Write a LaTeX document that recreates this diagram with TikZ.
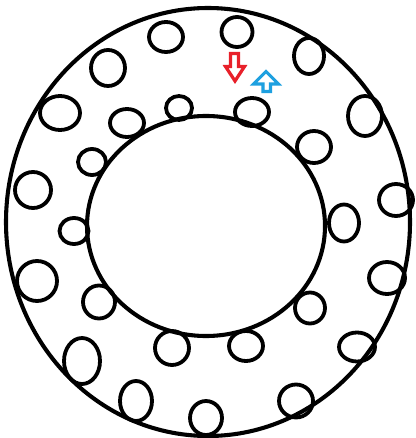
\documentclass[tikz,border=0pt]{standalone}
\usepackage{tikz}
\usepackage{xcolor}
\definecolor{ink}{HTML}{000000}
\definecolor{markred}{HTML}{E8202A}
\definecolor{markblue}{HTML}{1EA0E0}
\tikzset{
  ring/.style={draw=ink,line width=2.9pt},
  hole/.style={draw=ink,line width=2.7pt},
  redmark/.style={draw=markred,line width=2.3pt,line join=miter,fill=white},
  bluemark/.style={draw=markblue,line width=2.2pt,line join=miter,fill=white}
}
\begin{document}
\begin{tikzpicture}[x=0.025cm,y=-0.025cm]
    \path[use as bounding box,fill=white] (0,0) rectangle (415,438);
    % rings
    \draw[ring] (208,222) ellipse [x radius=202,y radius=214];
    \draw[ring] (206,226) ellipse [x radius=119,y radius=110];
    % holes: x/y/rx/ry
    \foreach \cx/\cy/\rx/\ry in {
        166/37/17/15, 237/32/15.5/15, 309/56/15/18, 108/68/17/18,
        60/113/20/17, 127/123/17/14, 179/108/13/12, 252/112/17/14,
        365/116/17/20, 314/147/17/16, 92/162/14/13, 33/190/18/18,
        396/200/17/16, 74/231/14.5/13, 344/223/15/18.5, 37/281/20/20,
        387/278/18/16, 99/302/16/16.5, 310/308/15/15.5, 172/348/17/17,
        246/346/17/15, 357/347/18/14.5, 82/361/18/23, 136/401/16/20,
        206/418/16/17, 296/401/17/16.5}
      \draw[hole] (\cx,\cy) ellipse [x radius=\rx,y radius=\ry];
    % markers
    \draw[redmark] (230.5,53.5) -- (238.5,53.5) -- (238.5,66.5) -- (244.5,66.5)
      -- (235,81) -- (225.5,66.5) -- (230.5,66.5) -- cycle;
    \draw[bluemark] (263,91.5) -- (270.5,91.5) -- (270.5,84) -- (278.5,84)
      -- (266,71.5) -- (253.5,84) -- (263,84) -- cycle;
\end{tikzpicture}
\end{document}
